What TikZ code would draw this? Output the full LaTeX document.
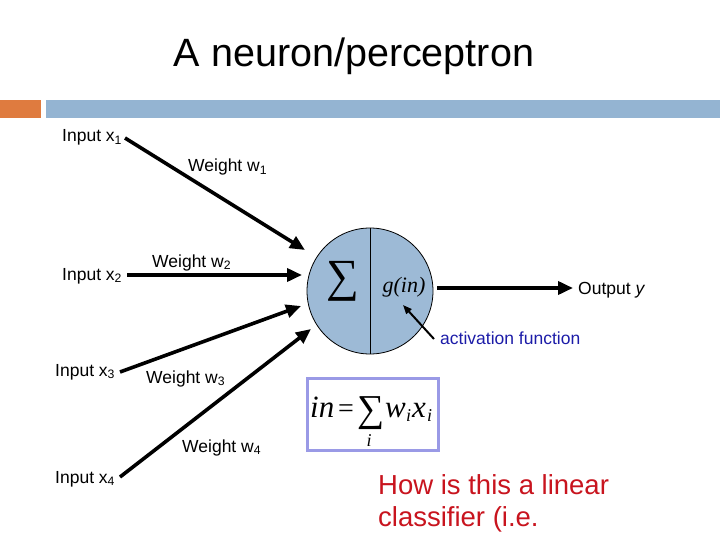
\documentclass[tikz,border=0pt]{standalone}
\usepackage{fontspec}
\setmainfont{Liberation Sans}
\newfontfamily\tms{Liberation Serif}
\usetikzlibrary{arrows.meta}
\definecolor{barblue}{HTML}{94B4D2}
\definecolor{barorange}{HTML}{DF7B3F}
\definecolor{cellblue}{HTML}{9DBAD6}
\definecolor{actblue}{HTML}{1C1CA8}
\definecolor{boxblue}{HTML}{9A9AE6}
\definecolor{qred}{HTML}{C8141E}
\begin{document}
\begin{tikzpicture}[x=1pt,y=-1pt,
  lbl/.style={font=\fontsize{17.5}{20}\selectfont, inner sep=0pt, anchor=base west},
  wire/.style={line width=3.6pt, -{Triangle[length=15pt,width=13pt]}},
  redtxt/.style={font=\fontsize{27.5}{32}\selectfont, text=qred, inner sep=0pt, anchor=base west},
  frm/.style={font=\tms\itshape\fontsize{31}{31}\selectfont, inner sep=0pt, anchor=base west},
  frmsub/.style={font=\tms\itshape\fontsize{18}{18}\selectfont, inner sep=0pt, anchor=base west}]
\useasboundingbox (0,0) rectangle (720,540);
% header bar
\fill[barorange] (0,100) rectangle (41,118);
\fill[barblue] (46,100) rectangle (720,118);
\node[font=\fontsize{39.5}{46}\selectfont, inner sep=0pt, anchor=base] (title) at (354,67) {A neuron/perceptron};
% neuron
\node[circle, draw, line width=0.8pt, fill=cellblue, minimum size=126pt, inner sep=0pt] (neuron) at (370,291) {};
\draw[line width=0.8pt] (neuron.north) -- (neuron.south);
\node[inner sep=0pt] (sigma) at (343,281) {\tms\fontsize{46}{46}\selectfont ∑};
\node[inner sep=0pt] (gin) at (404,287) {\tms\itshape\fontsize{22}{22}\selectfont g(in)};
% inputs
\node[lbl] (x1) at (62,142) {Input x\textsubscript{1}};
\node[lbl] (x2) at (62,280) {Input x\textsubscript{2}};
\node[lbl] (x3) at (55,376) {Input x\textsubscript{3}};
\node[lbl] (x4) at (55,483) {Input x\textsubscript{4}};
\node[lbl] (w1) at (188,172) {Weight w\textsubscript{1}};
\node[lbl] (w2) at (152,267) {Weight w\textsubscript{2}};
\node[lbl] (w3) at (146,383) {Weight w\textsubscript{3}};
\node[lbl] (w4) at (182,452) {Weight w\textsubscript{4}};
% connector endpoints
\coordinate (s1) at (125,138);
\coordinate (e1) at (305,250);
\coordinate (s2) at (127,275);
\coordinate (e2) at (302,275);
\coordinate (s3) at (120,372);
\coordinate (e3) at (301,306);
\coordinate (s4) at (120,477);
\coordinate (e4) at (311,329);
\draw[wire] (s1) -- (e1);
\draw[wire] (s2) -- (e2);
\draw[wire] (s3) -- (e3);
\draw[wire] (s4) -- (e4);
% output
\coordinate (os) at (437,288);
\coordinate (oe) at (573,288);
\draw[wire] (os) -- (oe);
\node[lbl] (out) at (578,294) {Output \textit{y}};
% activation
\node[lbl, text=actblue] (act) at (440,344) {activation function};
\coordinate (as) at (434,339);
\coordinate (ae) at (403,305);
\draw[line width=2pt, -{Triangle[length=9pt,width=7pt]}] (as) -- (ae);
% formula box
\node[draw=boxblue, line width=3pt, minimum width=131pt, minimum height=72pt, inner sep=0pt] (box) at (372.5,414) {};
\node[frm] (fin) at (310,417) {in};
\node[frm, font=\tms\fontsize{28}{28}\selectfont] (feq) at (338,417) {=};
\node[inner sep=0pt, anchor=base west] (fsum) at (357,421) {\tms\fontsize{38}{38}\selectfont ∑};
\node[frmsub, anchor=base] (fi) at (369,446) {i};
\node[frm] (fw) at (385,417) {w};
\node[frmsub] (fwi) at (406,421) {i};
\node[frm] (fx) at (412,417) {x};
\node[frmsub] (fxi) at (427,421) {i};
% question
\node[redtxt] (q1) at (378,494) {How is this a linear};
\node[redtxt] (q2) at (378,526) {classifier (i.e.};
\end{tikzpicture}
\end{document}
